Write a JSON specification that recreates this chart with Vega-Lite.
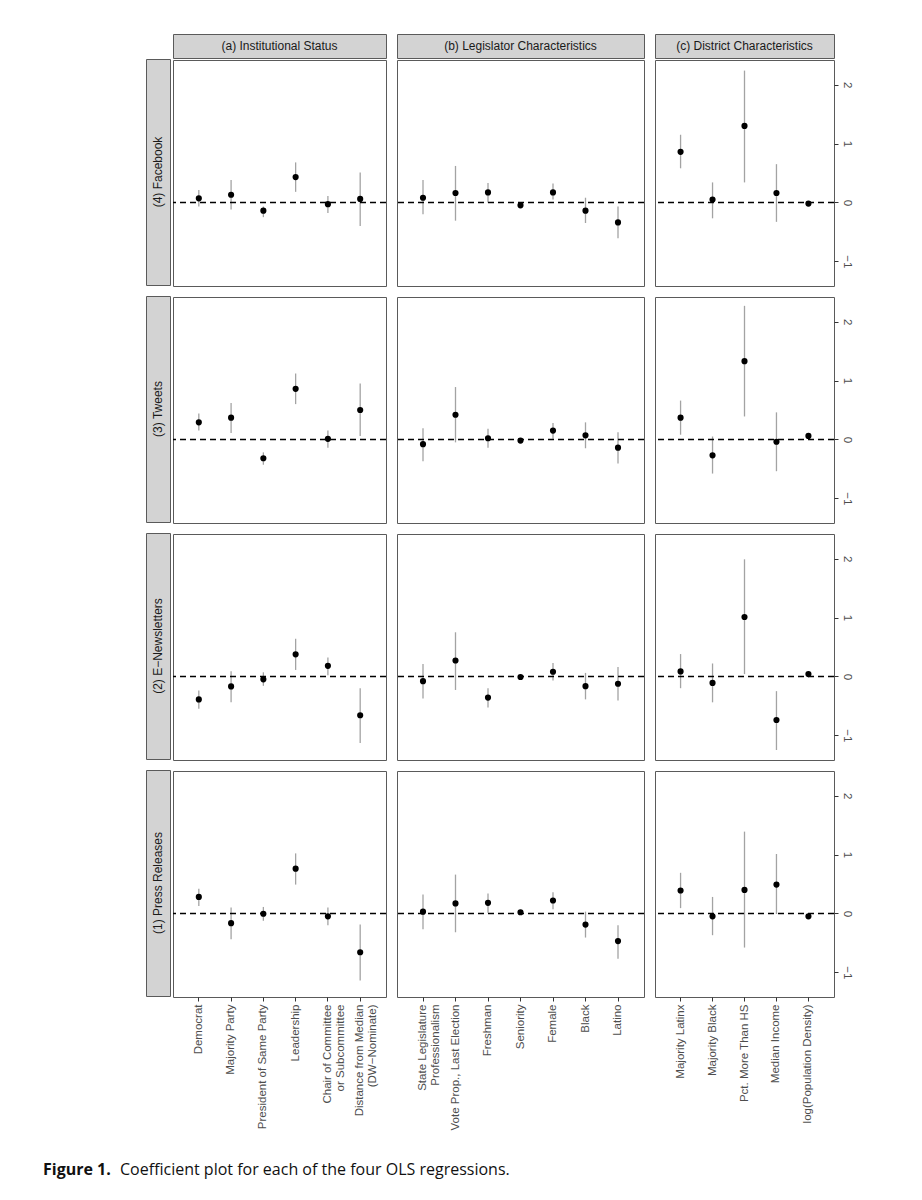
{
  "$schema": "https://vega.github.io/schema/vega-lite/v6.json",
  "autosize": "pad",
  "padding": {"left": 43, "top": 33, "right": 5, "bottom": 5},
  "background": "white",
  "datasets": {
    "zero": [{"ref": 0}],
    "coef": [
      {"model": 4, "group": "a", "var": "Democrat", "est": 0.07, "lo": -0.07, "hi": 0.21},
      {"model": 4, "group": "a", "var": "Majority Party", "est": 0.13, "lo": -0.12, "hi": 0.38},
      {"model": 4, "group": "a", "var": "President of Same Party", "est": -0.14, "lo": -0.25, "hi": -0.07},
      {"model": 4, "group": "a", "var": "Leadership", "est": 0.43, "lo": 0.18, "hi": 0.68},
      {"model": 4, "group": "a", "var": "Chair of Committee\nor Subcommittee", "est": -0.03, "lo": -0.18, "hi": 0.11},
      {"model": 4, "group": "a", "var": "Distance from Median\n(DW−Nominate)", "est": 0.06, "lo": -0.40, "hi": 0.51},
      {"model": 4, "group": "b", "var": "State Legislature\nProfessionalism", "est": 0.08, "lo": -0.20, "hi": 0.38},
      {"model": 4, "group": "b", "var": "Vote Prop., Last Election", "est": 0.16, "lo": -0.31, "hi": 0.62},
      {"model": 4, "group": "b", "var": "Freshman", "est": 0.17, "lo": 0.0, "hi": 0.33},
      {"model": 4, "group": "b", "var": "Seniority", "est": -0.05, "lo": -0.07, "hi": -0.02},
      {"model": 4, "group": "b", "var": "Female", "est": 0.17, "lo": 0.05, "hi": 0.32},
      {"model": 4, "group": "b", "var": "Black", "est": -0.14, "lo": -0.35, "hi": 0.08},
      {"model": 4, "group": "b", "var": "Latino", "est": -0.34, "lo": -0.61, "hi": -0.07},
      {"model": 4, "group": "c", "var": "Majority Latinx", "est": 0.86, "lo": 0.58, "hi": 1.15},
      {"model": 4, "group": "c", "var": "Majority Black", "est": 0.05, "lo": -0.27, "hi": 0.34},
      {"model": 4, "group": "c", "var": "Pct. More Than HS", "est": 1.30, "lo": 0.34, "hi": 2.24},
      {"model": 4, "group": "c", "var": "Median Income", "est": 0.16, "lo": -0.33, "hi": 0.65},
      {"model": 4, "group": "c", "var": "log(Population Density)", "est": -0.02, "lo": -0.05, "hi": 0.01},

      {"model": 3, "group": "a", "var": "Democrat", "est": 0.29, "lo": 0.15, "hi": 0.44},
      {"model": 3, "group": "a", "var": "Majority Party", "est": 0.37, "lo": 0.11, "hi": 0.62},
      {"model": 3, "group": "a", "var": "President of Same Party", "est": -0.32, "lo": -0.43, "hi": -0.22},
      {"model": 3, "group": "a", "var": "Leadership", "est": 0.86, "lo": 0.60, "hi": 1.12},
      {"model": 3, "group": "a", "var": "Chair of Committee\nor Subcommittee", "est": 0.01, "lo": -0.14, "hi": 0.15},
      {"model": 3, "group": "a", "var": "Distance from Median\n(DW−Nominate)", "est": 0.50, "lo": 0.06, "hi": 0.95},
      {"model": 3, "group": "b", "var": "State Legislature\nProfessionalism", "est": -0.08, "lo": -0.37, "hi": 0.19},
      {"model": 3, "group": "b", "var": "Vote Prop., Last Election", "est": 0.42, "lo": -0.05, "hi": 0.89},
      {"model": 3, "group": "b", "var": "Freshman", "est": 0.02, "lo": -0.14, "hi": 0.18},
      {"model": 3, "group": "b", "var": "Seniority", "est": -0.02, "lo": -0.05, "hi": 0.01},
      {"model": 3, "group": "b", "var": "Female", "est": 0.15, "lo": 0.01, "hi": 0.28},
      {"model": 3, "group": "b", "var": "Black", "est": 0.07, "lo": -0.15, "hi": 0.29},
      {"model": 3, "group": "b", "var": "Latino", "est": -0.14, "lo": -0.41, "hi": 0.12},
      {"model": 3, "group": "c", "var": "Majority Latinx", "est": 0.37, "lo": 0.08, "hi": 0.66},
      {"model": 3, "group": "c", "var": "Majority Black", "est": -0.27, "lo": -0.58, "hi": 0.05},
      {"model": 3, "group": "c", "var": "Pct. More Than HS", "est": 1.33, "lo": 0.39, "hi": 2.27},
      {"model": 3, "group": "c", "var": "Median Income", "est": -0.04, "lo": -0.54, "hi": 0.46},
      {"model": 3, "group": "c", "var": "log(Population Density)", "est": 0.06, "lo": 0.03, "hi": 0.09},

      {"model": 2, "group": "a", "var": "Democrat", "est": -0.39, "lo": -0.55, "hi": -0.24},
      {"model": 2, "group": "a", "var": "Majority Party", "est": -0.17, "lo": -0.44, "hi": 0.09},
      {"model": 2, "group": "a", "var": "President of Same Party", "est": -0.05, "lo": -0.16, "hi": 0.07},
      {"model": 2, "group": "a", "var": "Leadership", "est": 0.375, "lo": 0.11, "hi": 0.64},
      {"model": 2, "group": "a", "var": "Chair of Committee\nor Subcommittee", "est": 0.18, "lo": 0.02, "hi": 0.32},
      {"model": 2, "group": "a", "var": "Distance from Median\n(DW−Nominate)", "est": -0.66, "lo": -1.13, "hi": -0.20},
      {"model": 2, "group": "b", "var": "State Legislature\nProfessionalism", "est": -0.08, "lo": -0.375, "hi": 0.21},
      {"model": 2, "group": "b", "var": "Vote Prop., Last Election", "est": 0.27, "lo": -0.23, "hi": 0.75},
      {"model": 2, "group": "b", "var": "Freshman", "est": -0.36, "lo": -0.53, "hi": -0.20},
      {"model": 2, "group": "b", "var": "Seniority", "est": -0.01, "lo": -0.04, "hi": 0.02},
      {"model": 2, "group": "b", "var": "Female", "est": 0.08, "lo": -0.07, "hi": 0.23},
      {"model": 2, "group": "b", "var": "Black", "est": -0.165, "lo": -0.39, "hi": 0.06},
      {"model": 2, "group": "b", "var": "Latino", "est": -0.125, "lo": -0.41, "hi": 0.16},
      {"model": 2, "group": "c", "var": "Majority Latinx", "est": 0.085, "lo": -0.20, "hi": 0.38},
      {"model": 2, "group": "c", "var": "Majority Black", "est": -0.11, "lo": -0.44, "hi": 0.22},
      {"model": 2, "group": "c", "var": "Pct. More Than HS", "est": 1.01, "lo": 0.04, "hi": 1.99},
      {"model": 2, "group": "c", "var": "Median Income", "est": -0.74, "lo": -1.25, "hi": -0.25},
      {"model": 2, "group": "c", "var": "log(Population Density)", "est": 0.04, "lo": 0.01, "hi": 0.07},

      {"model": 1, "group": "a", "var": "Democrat", "est": 0.28, "lo": 0.125, "hi": 0.42},
      {"model": 1, "group": "a", "var": "Majority Party", "est": -0.165, "lo": -0.44, "hi": 0.10},
      {"model": 1, "group": "a", "var": "President of Same Party", "est": -0.005, "lo": -0.125, "hi": 0.11},
      {"model": 1, "group": "a", "var": "Leadership", "est": 0.76, "lo": 0.49, "hi": 1.02},
      {"model": 1, "group": "a", "var": "Chair of Committee\nor Subcommittee", "est": -0.05, "lo": -0.20, "hi": 0.10},
      {"model": 1, "group": "a", "var": "Distance from Median\n(DW−Nominate)", "est": -0.66, "lo": -1.14, "hi": -0.19},
      {"model": 1, "group": "b", "var": "State Legislature\nProfessionalism", "est": 0.03, "lo": -0.27, "hi": 0.32},
      {"model": 1, "group": "b", "var": "Vote Prop., Last Election", "est": 0.17, "lo": -0.32, "hi": 0.66},
      {"model": 1, "group": "b", "var": "Freshman", "est": 0.18, "lo": 0.01, "hi": 0.34},
      {"model": 1, "group": "b", "var": "Seniority", "est": 0.02, "lo": -0.01, "hi": 0.05},
      {"model": 1, "group": "b", "var": "Female", "est": 0.22, "lo": 0.07, "hi": 0.36},
      {"model": 1, "group": "b", "var": "Black", "est": -0.19, "lo": -0.41, "hi": 0.03},
      {"model": 1, "group": "b", "var": "Latino", "est": -0.47, "lo": -0.77, "hi": -0.20},
      {"model": 1, "group": "c", "var": "Majority Latinx", "est": 0.39, "lo": 0.09, "hi": 0.69},
      {"model": 1, "group": "c", "var": "Majority Black", "est": -0.05, "lo": -0.37, "hi": 0.28},
      {"model": 1, "group": "c", "var": "Pct. More Than HS", "est": 0.40, "lo": -0.58, "hi": 1.39},
      {"model": 1, "group": "c", "var": "Median Income", "est": 0.49, "lo": -0.01, "hi": 1.01},
      {"model": 1, "group": "c", "var": "log(Population Density)", "est": -0.05, "lo": -0.08, "hi": -0.02}
    ]
  },
  "data": {"name": "coef"},
  "title": {
    "text": "Figure 1.",
    "orient": "bottom", "anchor": "start", "frame": "group", "dx": -103, "offset": -16,
    "font": "Open Sans", "fontSize": 16, "fontWeight": "bold", "color": "#111111"
  },
  "config": {
    "font": "Liberation Sans",
    "view": {"stroke": "#5a5a5a", "strokeWidth": 1},
    "axis": {"title": null, "grid": false, "domain": false, "tickColor": "#333333", "tickSize": 4, "labelColor": "#4d4d4d", "labelFontSize": 11.5, "labelPadding": 3, "labelFont": "Liberation Sans"}
  },
  "resolve": {"scale": {"x": "independent", "y": "independent"}},
  "vconcat": [
  {
  "title": {
    "text": "Coefficient plot for each of the four OLS regressions.",
    "orient": "bottom", "anchor": "start", "frame": "group", "dx": -26, "offset": 32,
    "font": "Open Sans", "fontSize": 16, "fontWeight": "normal", "color": "#111111"
  },
  "resolve": {"scale": {"x": "independent", "y": "independent"}},
  "spacing": 7,
  "hconcat": [
    {
      "spacing": 0,
      "resolve": {"scale": {"x": "independent", "y": "independent"}},
      "hconcat": [
        {
          "spacing": 0,
          "vconcat": [
            {"width": 24, "height": 24, "view": {"stroke": null}, "data": {"values": [{"label": ""}]}, "mark": {"type": "text"}, "encoding": {"text": {"field": "label"}}},
            {
              "spacing": 9,
              "vconcat": [
                {"width": 24, "height": 226, "view": {"fill": "#d3d3d3", "stroke": "#5a5a5a"}, "data": {"values": [{"label": "(4) Facebook"}]}, "mark": {"type": "text", "angle": 270, "fontSize": 12, "color": "#1a1a1a"}, "encoding": {"text": {"field": "label"}}},
                {"width": 24, "height": 226, "view": {"fill": "#d3d3d3", "stroke": "#5a5a5a"}, "data": {"values": [{"label": "(3) Tweets"}]}, "mark": {"type": "text", "angle": 270, "fontSize": 12, "color": "#1a1a1a"}, "encoding": {"text": {"field": "label"}}},
                {"width": 24, "height": 226, "view": {"fill": "#d3d3d3", "stroke": "#5a5a5a"}, "data": {"values": [{"label": "(2) E−Newsletters"}]}, "mark": {"type": "text", "angle": 270, "fontSize": 12, "color": "#1a1a1a"}, "encoding": {"text": {"field": "label"}}},
                {"width": 24, "height": 226, "view": {"fill": "#d3d3d3", "stroke": "#5a5a5a"}, "data": {"values": [{"label": "(1) Press Releases"}]}, "mark": {"type": "text", "angle": 270, "fontSize": 12, "color": "#1a1a1a"}, "encoding": {"text": {"field": "label"}}}
              ]
            }
          ]
        },
        {
          "spacing": 0,
          "resolve": {"scale": {"x": "independent", "y": "independent"}},
          "vconcat": [
            {"width": 213, "height": 24, "view": {"fill": "#d3d3d3", "stroke": "#5a5a5a"}, "data": {"values": [{"label": "(a) Institutional Status"}]}, "mark": {"type": "text", "fontSize": 12, "color": "#1a1a1a"}, "encoding": {"text": {"field": "label"}}},
            {
              "spacing": 9,
              "resolve": {"scale": {"x": "independent", "y": "independent"}},
              "vconcat": [
                {"width": 213, "height": 226, "transform": [{"filter": "datum.model == 4 && datum.group == 'a'"}], "layer": [
                  {"mark": {"type": "rule", "color": "#a3a3a3", "strokeWidth": 1.3}, "encoding": {"x": {"field": "var", "type": "nominal", "title": null, "scale": {"domain": ["Democrat", "Majority Party", "President of Same Party", "Leadership", "Chair of Committee\nor Subcommittee", "Distance from Median\n(DW−Nominate)"], "padding": 0.6}, "axis": null}, "y": {"field": "lo", "type": "quantitative", "title": null, "scale": {"domain": [-1.42, 2.42], "nice": false, "zero": false}, "axis": null}, "y2": {"field": "hi"}}},
                  {"data": {"name": "zero"}, "mark": {"type": "rule", "color": "black", "strokeDash": [6, 4], "strokeWidth": 1.4}, "encoding": {"y": {"field": "ref", "type": "quantitative", "title": null, "axis": null}}},
                  {"mark": {"type": "circle", "color": "black", "opacity": 1, "size": 38}, "encoding": {"x": {"field": "var", "type": "nominal", "title": null, "axis": null}, "y": {"field": "est", "type": "quantitative", "title": null, "axis": null}}}
                ]},
                {"width": 213, "height": 226, "transform": [{"filter": "datum.model == 3 && datum.group == 'a'"}], "layer": [
                  {"mark": {"type": "rule", "color": "#a3a3a3", "strokeWidth": 1.3}, "encoding": {"x": {"field": "var", "type": "nominal", "title": null, "scale": {"domain": ["Democrat", "Majority Party", "President of Same Party", "Leadership", "Chair of Committee\nor Subcommittee", "Distance from Median\n(DW−Nominate)"], "padding": 0.6}, "axis": null}, "y": {"field": "lo", "type": "quantitative", "title": null, "scale": {"domain": [-1.42, 2.42], "nice": false, "zero": false}, "axis": null}, "y2": {"field": "hi"}}},
                  {"data": {"name": "zero"}, "mark": {"type": "rule", "color": "black", "strokeDash": [6, 4], "strokeWidth": 1.4}, "encoding": {"y": {"field": "ref", "type": "quantitative", "title": null, "axis": null}}},
                  {"mark": {"type": "circle", "color": "black", "opacity": 1, "size": 38}, "encoding": {"x": {"field": "var", "type": "nominal", "title": null, "axis": null}, "y": {"field": "est", "type": "quantitative", "title": null, "axis": null}}}
                ]},
                {"width": 213, "height": 226, "transform": [{"filter": "datum.model == 2 && datum.group == 'a'"}], "layer": [
                  {"mark": {"type": "rule", "color": "#a3a3a3", "strokeWidth": 1.3}, "encoding": {"x": {"field": "var", "type": "nominal", "title": null, "scale": {"domain": ["Democrat", "Majority Party", "President of Same Party", "Leadership", "Chair of Committee\nor Subcommittee", "Distance from Median\n(DW−Nominate)"], "padding": 0.6}, "axis": null}, "y": {"field": "lo", "type": "quantitative", "title": null, "scale": {"domain": [-1.42, 2.42], "nice": false, "zero": false}, "axis": null}, "y2": {"field": "hi"}}},
                  {"data": {"name": "zero"}, "mark": {"type": "rule", "color": "black", "strokeDash": [6, 4], "strokeWidth": 1.4}, "encoding": {"y": {"field": "ref", "type": "quantitative", "title": null, "axis": null}}},
                  {"mark": {"type": "circle", "color": "black", "opacity": 1, "size": 38}, "encoding": {"x": {"field": "var", "type": "nominal", "title": null, "axis": null}, "y": {"field": "est", "type": "quantitative", "title": null, "axis": null}}}
                ]},
                {"width": 213, "height": 226, "transform": [{"filter": "datum.model == 1 && datum.group == 'a'"}], "layer": [
                  {"mark": {"type": "rule", "color": "#a3a3a3", "strokeWidth": 1.3}, "encoding": {"x": {"field": "var", "type": "nominal", "title": null, "scale": {"domain": ["Democrat", "Majority Party", "President of Same Party", "Leadership", "Chair of Committee\nor Subcommittee", "Distance from Median\n(DW−Nominate)"], "padding": 0.6}, "axis": {"labelAngle": -90, "labelExpr": "split(datum.label, '\\n')", "labelOverlap": false, "labelLimit": 0, "labelAlign": "right", "labelBaseline": "middle", "labelLineHeight": 13}}, "y": {"field": "lo", "type": "quantitative", "title": null, "scale": {"domain": [-1.42, 2.42], "nice": false, "zero": false}, "axis": null}, "y2": {"field": "hi"}}},
                  {"data": {"name": "zero"}, "mark": {"type": "rule", "color": "black", "strokeDash": [6, 4], "strokeWidth": 1.4}, "encoding": {"y": {"field": "ref", "type": "quantitative", "title": null, "axis": null}}},
                  {"mark": {"type": "circle", "color": "black", "opacity": 1, "size": 38}, "encoding": {"x": {"field": "var", "type": "nominal", "title": null, "axis": {"labelAngle": -90, "labelExpr": "split(datum.label, '\\n')", "labelOverlap": false, "labelLimit": 0, "labelAlign": "right", "labelBaseline": "middle", "labelLineHeight": 13}}, "y": {"field": "est", "type": "quantitative", "title": null, "axis": null}}}
                ]}
              ]
            }
          ]
        }
      ]
    },
    {
      "spacing": 0,
      "resolve": {"scale": {"x": "independent", "y": "independent"}},
      "vconcat": [
        {"width": 247, "height": 24, "view": {"fill": "#d3d3d3", "stroke": "#5a5a5a"}, "data": {"values": [{"label": "(b) Legislator Characteristics"}]}, "mark": {"type": "text", "fontSize": 12, "color": "#1a1a1a"}, "encoding": {"text": {"field": "label"}}},
        {
          "spacing": 9,
          "resolve": {"scale": {"x": "independent", "y": "independent"}},
          "vconcat": [
            {"width": 247, "height": 226, "transform": [{"filter": "datum.model == 4 && datum.group == 'b'"}], "layer": [
              {"mark": {"type": "rule", "color": "#a3a3a3", "strokeWidth": 1.3}, "encoding": {"x": {"field": "var", "type": "nominal", "title": null, "scale": {"domain": ["State Legislature\nProfessionalism", "Vote Prop., Last Election", "Freshman", "Seniority", "Female", "Black", "Latino"], "padding": 0.6}, "axis": null}, "y": {"field": "lo", "type": "quantitative", "title": null, "scale": {"domain": [-1.42, 2.42], "nice": false, "zero": false}, "axis": null}, "y2": {"field": "hi"}}},
              {"data": {"name": "zero"}, "mark": {"type": "rule", "color": "black", "strokeDash": [6, 4], "strokeWidth": 1.4}, "encoding": {"y": {"field": "ref", "type": "quantitative", "title": null, "axis": null}}},
              {"mark": {"type": "circle", "color": "black", "opacity": 1, "size": 38}, "encoding": {"x": {"field": "var", "type": "nominal", "title": null, "axis": null}, "y": {"field": "est", "type": "quantitative", "title": null, "axis": null}}}
            ]},
            {"width": 247, "height": 226, "transform": [{"filter": "datum.model == 3 && datum.group == 'b'"}], "layer": [
              {"mark": {"type": "rule", "color": "#a3a3a3", "strokeWidth": 1.3}, "encoding": {"x": {"field": "var", "type": "nominal", "title": null, "scale": {"domain": ["State Legislature\nProfessionalism", "Vote Prop., Last Election", "Freshman", "Seniority", "Female", "Black", "Latino"], "padding": 0.6}, "axis": null}, "y": {"field": "lo", "type": "quantitative", "title": null, "scale": {"domain": [-1.42, 2.42], "nice": false, "zero": false}, "axis": null}, "y2": {"field": "hi"}}},
              {"data": {"name": "zero"}, "mark": {"type": "rule", "color": "black", "strokeDash": [6, 4], "strokeWidth": 1.4}, "encoding": {"y": {"field": "ref", "type": "quantitative", "title": null, "axis": null}}},
              {"mark": {"type": "circle", "color": "black", "opacity": 1, "size": 38}, "encoding": {"x": {"field": "var", "type": "nominal", "title": null, "axis": null}, "y": {"field": "est", "type": "quantitative", "title": null, "axis": null}}}
            ]},
            {"width": 247, "height": 226, "transform": [{"filter": "datum.model == 2 && datum.group == 'b'"}], "layer": [
              {"mark": {"type": "rule", "color": "#a3a3a3", "strokeWidth": 1.3}, "encoding": {"x": {"field": "var", "type": "nominal", "title": null, "scale": {"domain": ["State Legislature\nProfessionalism", "Vote Prop., Last Election", "Freshman", "Seniority", "Female", "Black", "Latino"], "padding": 0.6}, "axis": null}, "y": {"field": "lo", "type": "quantitative", "title": null, "scale": {"domain": [-1.42, 2.42], "nice": false, "zero": false}, "axis": null}, "y2": {"field": "hi"}}},
              {"data": {"name": "zero"}, "mark": {"type": "rule", "color": "black", "strokeDash": [6, 4], "strokeWidth": 1.4}, "encoding": {"y": {"field": "ref", "type": "quantitative", "title": null, "axis": null}}},
              {"mark": {"type": "circle", "color": "black", "opacity": 1, "size": 38}, "encoding": {"x": {"field": "var", "type": "nominal", "title": null, "axis": null}, "y": {"field": "est", "type": "quantitative", "title": null, "axis": null}}}
            ]},
            {"width": 247, "height": 226, "transform": [{"filter": "datum.model == 1 && datum.group == 'b'"}], "layer": [
              {"mark": {"type": "rule", "color": "#a3a3a3", "strokeWidth": 1.3}, "encoding": {"x": {"field": "var", "type": "nominal", "title": null, "scale": {"domain": ["State Legislature\nProfessionalism", "Vote Prop., Last Election", "Freshman", "Seniority", "Female", "Black", "Latino"], "padding": 0.6}, "axis": {"labelAngle": -90, "labelExpr": "split(datum.label, '\\n')", "labelOverlap": false, "labelLimit": 0, "labelAlign": "right", "labelBaseline": "middle", "labelLineHeight": 13}}, "y": {"field": "lo", "type": "quantitative", "title": null, "scale": {"domain": [-1.42, 2.42], "nice": false, "zero": false}, "axis": null}, "y2": {"field": "hi"}}},
              {"data": {"name": "zero"}, "mark": {"type": "rule", "color": "black", "strokeDash": [6, 4], "strokeWidth": 1.4}, "encoding": {"y": {"field": "ref", "type": "quantitative", "title": null, "axis": null}}},
              {"mark": {"type": "circle", "color": "black", "opacity": 1, "size": 38}, "encoding": {"x": {"field": "var", "type": "nominal", "title": null, "axis": {"labelAngle": -90, "labelExpr": "split(datum.label, '\\n')", "labelOverlap": false, "labelLimit": 0, "labelAlign": "right", "labelBaseline": "middle", "labelLineHeight": 13}}, "y": {"field": "est", "type": "quantitative", "title": null, "axis": null}}}
            ]}
          ]
        }
      ]
    },
    {
      "spacing": 0,
      "resolve": {"scale": {"x": "independent", "y": "independent"}},
      "vconcat": [
        {"width": 179, "height": 24, "view": {"fill": "#d3d3d3", "stroke": "#5a5a5a"}, "data": {"values": [{"label": "(c) District Characteristics"}]}, "mark": {"type": "text", "fontSize": 12, "color": "#1a1a1a"}, "encoding": {"text": {"field": "label"}}},
        {
          "spacing": 9,
          "resolve": {"scale": {"x": "independent", "y": "independent"}},
          "vconcat": [
            {"width": 179, "height": 226, "transform": [{"filter": "datum.model == 4 && datum.group == 'c'"}], "layer": [
              {"mark": {"type": "rule", "color": "#a3a3a3", "strokeWidth": 1.3}, "encoding": {"x": {"field": "var", "type": "nominal", "title": null, "scale": {"domain": ["Majority Latinx", "Majority Black", "Pct. More Than HS", "Median Income", "log(Population Density)"], "padding": 0.6}, "axis": null}, "y": {"field": "lo", "type": "quantitative", "title": null, "scale": {"domain": [-1.42, 2.42], "nice": false, "zero": false}, "axis": {"orient": "right", "values": [-1, 0, 1, 2], "labelAngle": 90, "labelAlign": "center", "labelBaseline": "bottom"}}, "y2": {"field": "hi"}}},
              {"data": {"name": "zero"}, "mark": {"type": "rule", "color": "black", "strokeDash": [6, 4], "strokeWidth": 1.4}, "encoding": {"y": {"field": "ref", "type": "quantitative", "title": null, "axis": {"orient": "right", "values": [-1, 0, 1, 2], "labelAngle": 90, "labelAlign": "center", "labelBaseline": "bottom"}}}},
              {"mark": {"type": "circle", "color": "black", "opacity": 1, "size": 38}, "encoding": {"x": {"field": "var", "type": "nominal", "title": null, "axis": null}, "y": {"field": "est", "type": "quantitative", "title": null, "axis": {"orient": "right", "values": [-1, 0, 1, 2], "labelAngle": 90, "labelAlign": "center", "labelBaseline": "bottom"}}}}
            ]},
            {"width": 179, "height": 226, "transform": [{"filter": "datum.model == 3 && datum.group == 'c'"}], "layer": [
              {"mark": {"type": "rule", "color": "#a3a3a3", "strokeWidth": 1.3}, "encoding": {"x": {"field": "var", "type": "nominal", "title": null, "scale": {"domain": ["Majority Latinx", "Majority Black", "Pct. More Than HS", "Median Income", "log(Population Density)"], "padding": 0.6}, "axis": null}, "y": {"field": "lo", "type": "quantitative", "title": null, "scale": {"domain": [-1.42, 2.42], "nice": false, "zero": false}, "axis": {"orient": "right", "values": [-1, 0, 1, 2], "labelAngle": 90, "labelAlign": "center", "labelBaseline": "bottom"}}, "y2": {"field": "hi"}}},
              {"data": {"name": "zero"}, "mark": {"type": "rule", "color": "black", "strokeDash": [6, 4], "strokeWidth": 1.4}, "encoding": {"y": {"field": "ref", "type": "quantitative", "title": null, "axis": {"orient": "right", "values": [-1, 0, 1, 2], "labelAngle": 90, "labelAlign": "center", "labelBaseline": "bottom"}}}},
              {"mark": {"type": "circle", "color": "black", "opacity": 1, "size": 38}, "encoding": {"x": {"field": "var", "type": "nominal", "title": null, "axis": null}, "y": {"field": "est", "type": "quantitative", "title": null, "axis": {"orient": "right", "values": [-1, 0, 1, 2], "labelAngle": 90, "labelAlign": "center", "labelBaseline": "bottom"}}}}
            ]},
            {"width": 179, "height": 226, "transform": [{"filter": "datum.model == 2 && datum.group == 'c'"}], "layer": [
              {"mark": {"type": "rule", "color": "#a3a3a3", "strokeWidth": 1.3}, "encoding": {"x": {"field": "var", "type": "nominal", "title": null, "scale": {"domain": ["Majority Latinx", "Majority Black", "Pct. More Than HS", "Median Income", "log(Population Density)"], "padding": 0.6}, "axis": null}, "y": {"field": "lo", "type": "quantitative", "title": null, "scale": {"domain": [-1.42, 2.42], "nice": false, "zero": false}, "axis": {"orient": "right", "values": [-1, 0, 1, 2], "labelAngle": 90, "labelAlign": "center", "labelBaseline": "bottom"}}, "y2": {"field": "hi"}}},
              {"data": {"name": "zero"}, "mark": {"type": "rule", "color": "black", "strokeDash": [6, 4], "strokeWidth": 1.4}, "encoding": {"y": {"field": "ref", "type": "quantitative", "title": null, "axis": {"orient": "right", "values": [-1, 0, 1, 2], "labelAngle": 90, "labelAlign": "center", "labelBaseline": "bottom"}}}},
              {"mark": {"type": "circle", "color": "black", "opacity": 1, "size": 38}, "encoding": {"x": {"field": "var", "type": "nominal", "title": null, "axis": null}, "y": {"field": "est", "type": "quantitative", "title": null, "axis": {"orient": "right", "values": [-1, 0, 1, 2], "labelAngle": 90, "labelAlign": "center", "labelBaseline": "bottom"}}}}
            ]},
            {"width": 179, "height": 226, "transform": [{"filter": "datum.model == 1 && datum.group == 'c'"}], "layer": [
              {"mark": {"type": "rule", "color": "#a3a3a3", "strokeWidth": 1.3}, "encoding": {"x": {"field": "var", "type": "nominal", "title": null, "scale": {"domain": ["Majority Latinx", "Majority Black", "Pct. More Than HS", "Median Income", "log(Population Density)"], "padding": 0.6}, "axis": {"labelAngle": -90, "labelExpr": "split(datum.label, '\\n')", "labelOverlap": false, "labelLimit": 0, "labelAlign": "right", "labelBaseline": "middle", "labelLineHeight": 13}}, "y": {"field": "lo", "type": "quantitative", "title": null, "scale": {"domain": [-1.42, 2.42], "nice": false, "zero": false}, "axis": {"orient": "right", "values": [-1, 0, 1, 2], "labelAngle": 90, "labelAlign": "center", "labelBaseline": "bottom"}}, "y2": {"field": "hi"}}},
              {"data": {"name": "zero"}, "mark": {"type": "rule", "color": "black", "strokeDash": [6, 4], "strokeWidth": 1.4}, "encoding": {"y": {"field": "ref", "type": "quantitative", "title": null, "axis": {"orient": "right", "values": [-1, 0, 1, 2], "labelAngle": 90, "labelAlign": "center", "labelBaseline": "bottom"}}}},
              {"mark": {"type": "circle", "color": "black", "opacity": 1, "size": 38}, "encoding": {"x": {"field": "var", "type": "nominal", "title": null, "axis": {"labelAngle": -90, "labelExpr": "split(datum.label, '\\n')", "labelOverlap": false, "labelLimit": 0, "labelAlign": "right", "labelBaseline": "middle", "labelLineHeight": 13}}, "y": {"field": "est", "type": "quantitative", "title": null, "axis": {"orient": "right", "values": [-1, 0, 1, 2], "labelAngle": 90, "labelAlign": "center", "labelBaseline": "bottom"}}}}
            ]}
          ]
        }
      ]
    }
  ]
  }
  ]
}
